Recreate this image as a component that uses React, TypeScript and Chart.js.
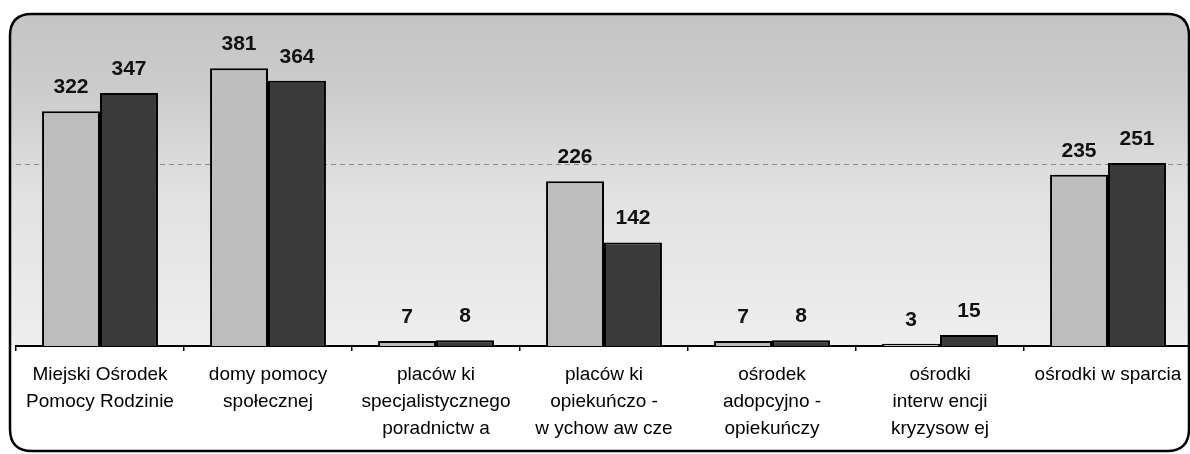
import React, { useEffect, useRef } from "react";
import { Chart, registerables } from "chart.js";

Chart.register(...registerables);

const categories: string[][] = [
  ["Miejski Ośrodek", "Pomocy Rodzinie"],
  ["domy pomocy", "społecznej"],
  ["placów ki", "specjalistycznego", "poradnictw a"],
  ["placów ki", "opiekuńczo -", "w ychow aw cze"],
  ["ośrodek", "adopcyjno -", "opiekuńczy"],
  ["ośrodki", "interw encji", "kryzysow ej"],
  ["ośrodki w sparcia"],
];
const seriesLight: number[] = [322, 381, 7, 226, 7, 3, 235];
const seriesDark: number[] = [347, 364, 8, 142, 8, 15, 251];
const gridValues: number[] = [250];

const W = 1200;
const H = 454;

const framePlugin = {
  id: "frame",
  beforeDraw(chart: any) {
    const { ctx, chartArea } = chart;
    ctx.save();
    ctx.fillStyle = "#ffffff";
    ctx.fillRect(0, 0, chart.width, chart.height);
    // textured plot background (approximated by gradient)
    const top = 15;
    const bottom = chartArea.bottom;
    const g = ctx.createLinearGradient(0, top, 0, bottom);
    g.addColorStop(0, "#c4c4c4");
    g.addColorStop(0.25, "#cdcdcd");
    g.addColorStop(0.55, "#e2e2e2");
    g.addColorStop(1, "#eeeeee");
    ctx.fillStyle = g;
    ctx.beginPath();
    const r = 22;
    const x0 = 11;
    const x1 = 1188;
    ctx.moveTo(x0, bottom);
    ctx.lineTo(x0, top + r);
    ctx.quadraticCurveTo(x0, top, x0 + r, top);
    ctx.lineTo(x1 - r, top);
    ctx.quadraticCurveTo(x1, top, x1, top + r);
    ctx.lineTo(x1, bottom);
    ctx.closePath();
    ctx.fill();
    ctx.restore();
  },
  beforeDatasetsDraw(chart: any) {
    const { ctx, chartArea, scales } = chart;
    ctx.save();
    ctx.strokeStyle = "#8a8a8a";
    ctx.lineWidth = 1;
    ctx.setLineDash([5, 4]);
    for (const v of gridValues) {
      const y = Math.round(scales.y.getPixelForValue(v)) + 0.5;
      ctx.beginPath();
      ctx.moveTo(chartArea.left, y);
      ctx.lineTo(chartArea.right, y);
      ctx.stroke();
    }
    ctx.restore();
  },
  afterDatasetsDraw(chart: any) {
    const { ctx } = chart;
    ctx.save();
    ctx.fillStyle = "#111111";
    ctx.font = "bold 21px 'Liberation Sans', Arial, sans-serif";
    ctx.textAlign = "center";
    ctx.textBaseline = "alphabetic";
    chart.data.datasets.forEach((ds: any, di: number) => {
      const meta = chart.getDatasetMeta(di);
      meta.data.forEach((el: any, i: number) => {
        ctx.fillText(String(ds.data[i]), el.x, el.y - 18);
      });
    });
    ctx.restore();
  },
  afterDraw(chart: any) {
    const { ctx } = chart;
    ctx.save();
    ctx.strokeStyle = "#000000";
    ctx.lineWidth = 2.5;
    const x0 = 10;
    const y0 = 14;
    const x1 = 1189;
    const y1 = 451;
    const r = 22;
    ctx.beginPath();
    ctx.moveTo(x0 + r, y0);
    ctx.lineTo(x1 - r, y0);
    ctx.quadraticCurveTo(x1, y0, x1, y0 + r);
    ctx.lineTo(x1, y1 - r);
    ctx.quadraticCurveTo(x1, y1, x1 - r, y1);
    ctx.lineTo(x0 + r, y1);
    ctx.quadraticCurveTo(x0, y1, x0, y1 - r);
    ctx.lineTo(x0, y0 + r);
    ctx.quadraticCurveTo(x0, y0, x0 + r, y0);
    ctx.stroke();
    ctx.restore();
  },
};

export default function App() {
  const ref = useRef<HTMLCanvasElement | null>(null);
  useEffect(() => {
    if (!ref.current) return;
    const chart = new Chart(ref.current, {
      type: "bar",
      data: {
        labels: categories,
        datasets: [
          {
            label: "A",
            data: seriesLight,
            backgroundColor: "#bdbdbd",
            borderColor: "#000000",
            borderWidth: 2,
            categoryPercentage: 0.69,
            barPercentage: 1,
          },
          {
            label: "B",
            data: seriesDark,
            backgroundColor: "#3a3a3a",
            borderColor: "#000000",
            borderWidth: 2,
            categoryPercentage: 0.69,
            barPercentage: 1,
          },
        ],
      },
      options: {
        responsive: false,
        animation: false,
        devicePixelRatio: 1,
        layout: { padding: { left: 16, right: 8, top: 18, bottom: 0 } },
        plugins: {
          legend: { display: false },
          tooltip: { enabled: false },
        },
        scales: {
          x: {
            grid: {
              display: true,
              drawOnChartArea: false,
              drawTicks: true,
              tickLength: 5,
              color: "#000000",
              lineWidth: 1.5,
            },
            border: { display: true, color: "#000000", width: 2 },
            ticks: {
              color: "#000000",
              padding: 10,
              maxRotation: 0,
              autoSkip: false,
              font: { family: "'Liberation Sans', Arial, sans-serif", size: 19, lineHeight: 1.42 },
            },
            afterFit: (scale: any) => {
              scale.height = 108;
            },
          },
          y: {
            display: false,
            min: 0,
            max: 450,
          },
        },
      },
      plugins: [framePlugin],
    });
    return () => chart.destroy();
  }, []);
  return (
    <div style={{ position: "absolute", left: 0, top: 0, width: 1190, height: H, overflow: "hidden" }}>
      <canvas ref={ref} width={W} height={H} style={{ display: "block", width: W, height: H }} />
    </div>
  );
}
